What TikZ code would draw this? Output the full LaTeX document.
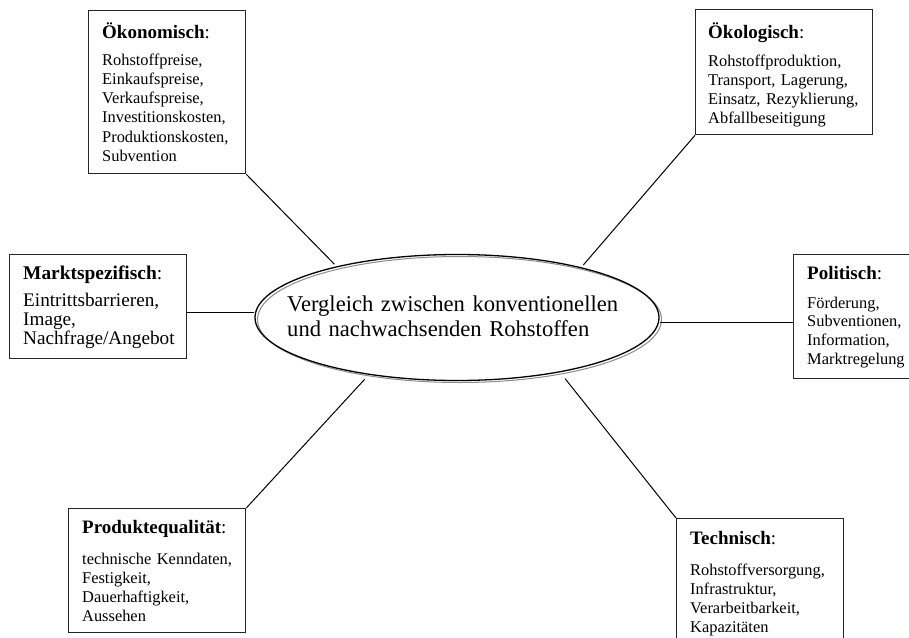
\documentclass[tikz,border=0pt]{standalone}
\usepackage{fontspec}
\setmainfont{Liberation Serif}
\usetikzlibrary{shapes.geometric}
\tikzset{
  infobox/.style={draw=black!85, line width=1.3pt, rectangle, inner sep=0pt, anchor=north west},
  titletext/.style={anchor=base west, inner sep=0pt, font=\fontsize{19}{23}\selectfont},
  bodytext/.style={anchor=base west, inner sep=0pt, align=left, text width=220pt, font=\fontsize{16.4}{19.3}\selectfont},
  conn/.style={draw=black, line width=1pt},
  ellbase/.style={ellipse, minimum width=404pt, minimum height=126pt, inner sep=0pt},
}
\begin{document}
\begin{tikzpicture}[x=1pt,y=-1pt]
\useasboundingbox (0,0) rectangle (909,637);
\fill[white] (0,0) rectangle (909,637);
\clip (0,0) rectangle (909,637);

% central ellipse
\node[ellbase, draw=black!45, line width=1pt] (ellshade) at (459.5,319.5) {};
\node[ellbase, draw=black, line width=1.3pt] (ell) at (457,317.5) {};
\node[anchor=base west, inner sep=0pt, align=left, text width=340pt, font=\fontsize{22.6}{25}\selectfont] (elltext) at (287,311)
  {Vergleich zwischen konventionellen\\und nachwachsenden Rohstoffen};

% Oekonomisch
\node[infobox, minimum width=157pt, minimum height=163pt] (oekbox) at (88,10) {};
\node[titletext] (oektitle) at (102,38) {\textbf{Ökonomisch}:};
\node[bodytext] (oekbody) at (102,65) {Rohstoffpreise,\\Einkaufspreise,\\Verkaufspreise,\\Investitionskosten,\\Produktionskosten,\\Subvention};

% Oekologisch
\node[infobox, minimum width=177pt, minimum height=125pt] (oekobox) at (695,9) {};
\node[titletext] (oekotitle) at (708,38) {\textbf{Ökologisch}:};
\node[bodytext] (oekobody) at (708,66) {Rohstoffproduktion,\\Transport, Lagerung,\\Einsatz, Rezyklierung,\\Abfallbeseitigung};

% Marktspezifisch
\node[infobox, minimum width=177pt, minimum height=104pt] (marktbox) at (9,254) {};
\node[titletext, font=\fontsize{19.4}{23}\selectfont] (markttitle) at (23,279) {\textbf{Marktspezifisch}:};
\node[bodytext, font=\fontsize{19.2}{19.3}\selectfont] (marktbody) at (23,306) {Eintrittsbarrieren,\\Image,\\Nachfrage/Angebot};

% Politisch
\node[infobox, minimum width=132pt, minimum height=124pt] (politbox) at (793,254) {};
\node[titletext] (polittitle) at (807,279) {\textbf{Politisch}:};
\node[bodytext, font=\fontsize{16.4}{18.8}\selectfont] (politbody) at (807,308) {Förderung,\\Subventionen,\\Information,\\Marktregelung};

% Produktequalitaet
\node[infobox, minimum width=177pt, minimum height=124pt] (prodbox) at (68,508) {};
\node[titletext] (prodtitle) at (82,533) {\textbf{Produktequalität}:};
\node[bodytext] (prodbody) at (82,564) {technische Kenndaten,\\Festigkeit,\\Dauerhaftigkeit,\\Aussehen};

% Technisch
\node[infobox, minimum width=167pt, minimum height=135pt] (techbox) at (676,518) {};
\node[titletext] (techtitle) at (690,544) {\textbf{Technisch}:};
\node[bodytext] (techbody) at (690,575) {Rohstoffversorgung,\\Infrastruktur,\\Verarbeitbarkeit,\\Kapazitäten};

% connectors
\draw[conn, shorten <=3pt] (ell.157.8) -- (oekbox.south east);
\draw[conn, shorten <=3pt] (ell.22.7) -- (oekobox.south west);
\coordinate (mL) at ([yshift=5pt]ell.west);
\draw[conn] (mL) -- (mL -| marktbox.east);
\coordinate (pR) at ([yshift=-5pt]ell.east);
\draw[conn] (pR) -- (pR -| politbox.west);
\draw[conn, shorten <=6pt] (ell.213.9) -- (prodbox.north east);
\draw[conn, shorten <=8pt] (ell.332.6) -- (techbox.north west);
\end{tikzpicture}
\end{document}
